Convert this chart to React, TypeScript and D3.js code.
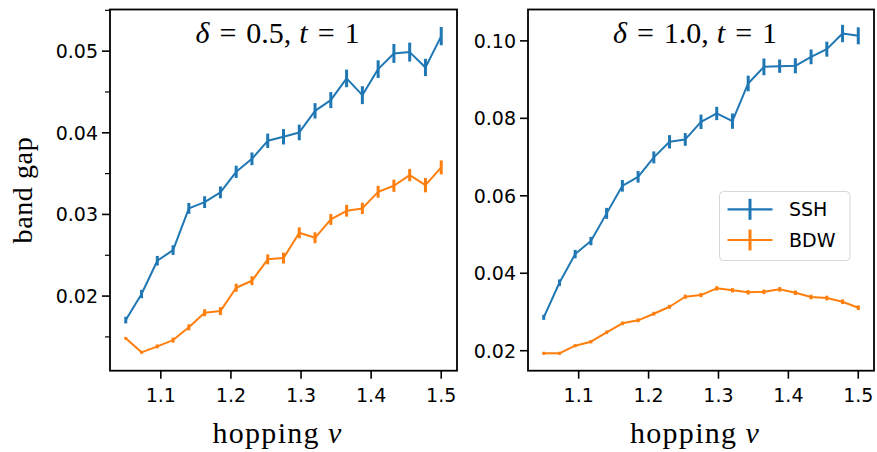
import React from "react";
import * as d3 from "d3";

const hopping = d3.range(21).map((i) => 1.05 + i * 0.0225);

const ssh05 = [0.01706, 0.02025, 0.02433, 0.02563, 0.03074, 0.03151, 0.0327, 0.03522, 0.03681, 0.03902, 0.03951, 0.04004, 0.04269, 0.044, 0.04666, 0.04461, 0.0478, 0.04972, 0.04988, 0.048, 0.05184];
const ssh05Err = [0.00041, 0.00051, 0.00059, 0.00059, 0.00067, 0.00072, 0.00073, 0.00075, 0.00078, 0.00088, 0.00094, 0.00096, 0.00094, 0.00098, 0.00108, 0.0011, 0.00108, 0.00116, 0.00116, 0.00106, 0.00112];
const bdw05 = [0.01482, 0.01311, 0.01384, 0.01461, 0.01617, 0.01796, 0.01816, 0.02102, 0.02188, 0.0245, 0.02465, 0.02775, 0.02714, 0.02939, 0.03045, 0.03074, 0.03277, 0.03351, 0.03482, 0.03359, 0.03576];
const bdw05Err = [0.00018, 0.00018, 0.00024, 0.00031, 0.00037, 0.00043, 0.00049, 0.00049, 0.00055, 0.00061, 0.00067, 0.00067, 0.00067, 0.00067, 0.00072, 0.00069, 0.00073, 0.00075, 0.00075, 0.00088, 0.00086];

const ssh10 = [0.02862, 0.03755, 0.04495, 0.04831, 0.05546, 0.06258, 0.0649, 0.06991, 0.07394, 0.07455, 0.0791, 0.08126, 0.07928, 0.089, 0.09329, 0.09347, 0.09357, 0.09587, 0.09786, 0.1019, 0.1013];
const ssh10Err = [0.00065, 0.00086, 0.00108, 0.00108, 0.00142, 0.00151, 0.00151, 0.00155, 0.00172, 0.00164, 0.00185, 0.00172, 0.00198, 0.00202, 0.00215, 0.00172, 0.00194, 0.0019, 0.00194, 0.00224, 0.00219];
const bdw10 = [0.01933, 0.01933, 0.02129, 0.02232, 0.02475, 0.02707, 0.02785, 0.02955, 0.03135, 0.03394, 0.03437, 0.0361, 0.0356, 0.03507, 0.0352, 0.03585, 0.03497, 0.03386, 0.0336, 0.03265, 0.0311];
const bdw10Err = [0.0004, 0.0004, 0.00042, 0.00044, 0.00046, 0.00048, 0.0005, 0.0005, 0.00052, 0.00054, 0.00055, 0.00056, 0.00056, 0.00057, 0.00058, 0.00058, 0.00059, 0.0006, 0.0006, 0.00061, 0.00062];

const xTicks = [1.1, 1.2, 1.3, 1.4, 1.5];
const yTicksLeft = [0.02, 0.03, 0.04, 0.05];
const yMinorLeft = [0.015, 0.025, 0.035, 0.045, 0.055];
const yTicksRight = [0.02, 0.04, 0.06, 0.08, 0.1];

const seriesNames = ["SSH", "BDW"];
const colors = ["#1f77b4", "#ff7f0e"];

const W = 877;
const H = 452;
const TOP = 9.5;
const BOTTOM = 370.7;
const XDOMAIN: [number, number] = [1.0275, 1.5225];

const sans = "DejaVu Sans, sans-serif";
const serif = "Liberation Serif, Times New Roman, serif";

type PanelProps = {
  left: number;
  right: number;
  yDomain: [number, number];
  yTicks: number[];
  yMinor: number[];
  yFormat: (v: number) => string;
  series: { values: number[]; errs: number[] }[];
  titleVal: string;
  legend: boolean;
  showYLabel: boolean;
};

function Panel(p: PanelProps) {
  const x = d3.scaleLinear().domain(XDOMAIN).range([p.left, p.right]);
  const y = d3.scaleLinear().domain(p.yDomain).range([BOTTOM, TOP]);
  const line = d3
    .line<number>()
    .x((_, i) => x(hopping[i]))
    .y((d) => y(d));
  const cx = (p.left + p.right) / 2;
  return (
    <g>
      {p.series.map((s, si) => (
        <g key={si}>
          <path d={line(s.values) || ""} fill="none" stroke={colors[si]} strokeWidth={2} strokeLinejoin="round" />
          {s.values.map((v, i) => (
            <line
              key={i}
              x1={x(hopping[i])}
              x2={x(hopping[i])}
              y1={y(v - s.errs[i])}
              y2={y(v + s.errs[i])}
              stroke={colors[si]}
              strokeWidth={3}
            />
          ))}
        </g>
      ))}
      <rect x={p.left} y={TOP} width={p.right - p.left} height={BOTTOM - TOP} fill="none" stroke="#000" strokeWidth={1.8} />
      {xTicks.map((t) => (
        <g key={t}>
          <line x1={x(t)} x2={x(t)} y1={BOTTOM} y2={BOTTOM + 8} stroke="#000" strokeWidth={1.6} />
          <text x={x(t)} y={402} textAnchor="middle" fontFamily={sans} fontSize={19} fill="#000">
            {t.toFixed(1)}
          </text>
        </g>
      ))}
      {p.yTicks.map((t) => (
        <g key={t}>
          <line x1={p.left - 8} x2={p.left} y1={y(t)} y2={y(t)} stroke="#000" strokeWidth={1.6} />
          <text x={p.left - 12} y={y(t)} dy="0.36em" textAnchor="end" fontFamily={sans} fontSize={19} fill="#000">
            {p.yFormat(t)}
          </text>
        </g>
      ))}
      {p.yMinor.map((t) => (
        <line key={t} x1={p.left - 5} x2={p.left} y1={y(t)} y2={y(t)} stroke="#000" strokeWidth={1.2} />
      ))}
      <text x={cx - 6} y={42.7} textAnchor="middle" fontFamily={serif} fontSize={30} fill="#000">
        <tspan fontStyle="italic">δ</tspan>
        <tspan dx={10}>=</tspan>
        <tspan dx={10}>{p.titleVal + ","}</tspan>
        <tspan dx={8} fontStyle="italic">t</tspan>
        <tspan dx={10}>=</tspan>
        <tspan dx={10}>1</tspan>
      </text>
      <text x={cx - 6} y={443} textAnchor="middle" fontFamily={serif} fontSize={30} fill="#000" letterSpacing={1.3}>
        <tspan>hopping</tspan>
        <tspan dx={8} fontStyle="italic">v</tspan>
      </text>
      {p.showYLabel && (
        <text
          transform={`translate(32, ${(TOP + BOTTOM) / 2}) rotate(-90)`}
          textAnchor="middle"
          fontFamily={serif}
          fontSize={28}
          letterSpacing={0.6}
          fill="#000"
        >
          band gap
        </text>
      )}
      {p.legend && (
        <g>
          <rect x={719.5} y={191.5} width={130.5} height={69} rx={4} fill="#fff" fillOpacity={0.8} stroke="#d6d6d6" strokeWidth={1} />
          {seriesNames.map((n, i) => {
            const ly = 209.3 + i * 30.7;
            return (
              <g key={n}>
                <line x1={727.5} x2={772.5} y1={ly} y2={ly} stroke={colors[i]} strokeWidth={2.2} />
                <line x1={750} x2={750} y1={ly - 10.5} y2={ly + 10.5} stroke={colors[i]} strokeWidth={3} />
                <text x={789} y={ly} dy="0.36em" fontFamily={sans} fontSize={19} fill="#000">
                  {n}
                </text>
              </g>
            );
          })}
        </g>
      )}
    </g>
  );
}

export default function App() {
  return (
    <svg width={W} height={H} style={{ position: "absolute", left: 0, top: 0, background: "#fff" }}>
      <rect x={0} y={0} width={W} height={H} fill="#fff" />
      <Panel
        left={110}
        right={457}
        yDomain={[0.01086, 0.0551]}
        yTicks={yTicksLeft}
        yMinor={yMinorLeft}
        yFormat={(v) => v.toFixed(2)}
        series={[
          { values: ssh05, errs: ssh05Err },
          { values: bdw05, errs: bdw05Err },
        ]}
        titleVal="0.5"
        legend={false}
        showYLabel={true}
      />
      <Panel
        left={528}
        right={874}
        yDomain={[0.01484, 0.1081]}
        yTicks={yTicksRight}
        yMinor={[]}
        yFormat={(v) => v.toFixed(2)}
        series={[
          { values: ssh10, errs: ssh10Err },
          { values: bdw10, errs: bdw10Err },
        ]}
        titleVal="1.0"
        legend={true}
        showYLabel={false}
      />
    </svg>
  );
}
